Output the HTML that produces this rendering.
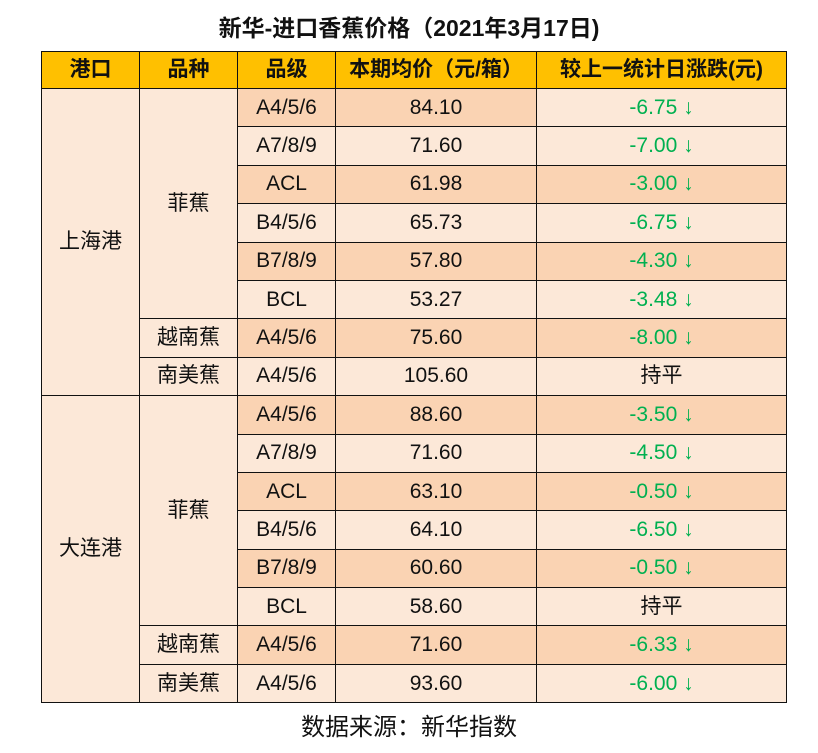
<!DOCTYPE html>
<html><head><meta charset="utf-8"><style>
body{margin:0;width:818px;height:753px;background:#fff;font-family:"Liberation Sans","Noto Sans CJK SC",sans-serif;position:relative;overflow:hidden}
.t{position:absolute;top:9px;left:0;width:818px;text-align:center;font-size:23px;font-weight:bold;color:#111}
table{position:absolute;left:41px;top:51px;border-collapse:collapse;table-layout:fixed}
td{border:1.5px solid #111;text-align:center;font-size:21px;line-height:22px;padding:0;height:37px;color:#111;background:#fce8d8;vertical-align:middle}
tr.b td{height:37.4px}
tr.h td{background:#ffc000;font-weight:bold;height:36px}
td.d{background:#fad3b3}
.g{color:#00b050}
.f{position:absolute;top:707px;left:0;width:818px;text-align:center;font-size:24px;color:#111}
</style></head><body>
<div class="t">新华-进口香蕉价格（2021年3月17日)</div>
<table>
<colgroup><col style="width:98px"><col style="width:98px"><col style="width:98px"><col style="width:201px"><col style="width:250px"></colgroup>
<tr class="h"><td>港口</td><td>品种</td><td>品级</td><td>本期均价（元/箱）</td><td>较上一统计日涨跌(元)</td></tr>
<tr class="b"><td rowspan="8">上海港</td><td rowspan="6">菲蕉</td><td class="d">A4/5/6</td><td class="d">84.10</td><td class="g">-6.75 ↓</td></tr>
<tr class="b"><td>A7/8/9</td><td>71.60</td><td class="g">-7.00 ↓</td></tr>
<tr class="b"><td class="d">ACL</td><td class="d">61.98</td><td class="d g">-3.00 ↓</td></tr>
<tr class="b"><td>B4/5/6</td><td>65.73</td><td class="g">-6.75 ↓</td></tr>
<tr class="b"><td class="d">B7/8/9</td><td class="d">57.80</td><td class="d g">-4.30 ↓</td></tr>
<tr class="b"><td>BCL</td><td>53.27</td><td class="g">-3.48 ↓</td></tr>
<tr class="b"><td>越南蕉</td><td class="d">A4/5/6</td><td class="d">75.60</td><td class="d g">-8.00 ↓</td></tr>
<tr class="b"><td>南美蕉</td><td>A4/5/6</td><td>105.60</td><td>持平</td></tr>
<tr class="b"><td rowspan="8">大连港</td><td rowspan="6">菲蕉</td><td class="d">A4/5/6</td><td class="d">88.60</td><td class="d g">-3.50 ↓</td></tr>
<tr class="b"><td>A7/8/9</td><td>71.60</td><td class="g">-4.50 ↓</td></tr>
<tr class="b"><td class="d">ACL</td><td class="d">63.10</td><td class="d g">-0.50 ↓</td></tr>
<tr class="b"><td>B4/5/6</td><td>64.10</td><td class="g">-6.50 ↓</td></tr>
<tr class="b"><td class="d">B7/8/9</td><td class="d">60.60</td><td class="d g">-0.50 ↓</td></tr>
<tr class="b"><td>BCL</td><td>58.60</td><td>持平</td></tr>
<tr class="b"><td>越南蕉</td><td class="d">A4/5/6</td><td class="d">71.60</td><td class="d g">-6.33 ↓</td></tr>
<tr class="b"><td>南美蕉</td><td>A4/5/6</td><td>93.60</td><td class="g">-6.00 ↓</td></tr>
</table>
<div class="f">数据来源：新华指数</div>
</body></html>
